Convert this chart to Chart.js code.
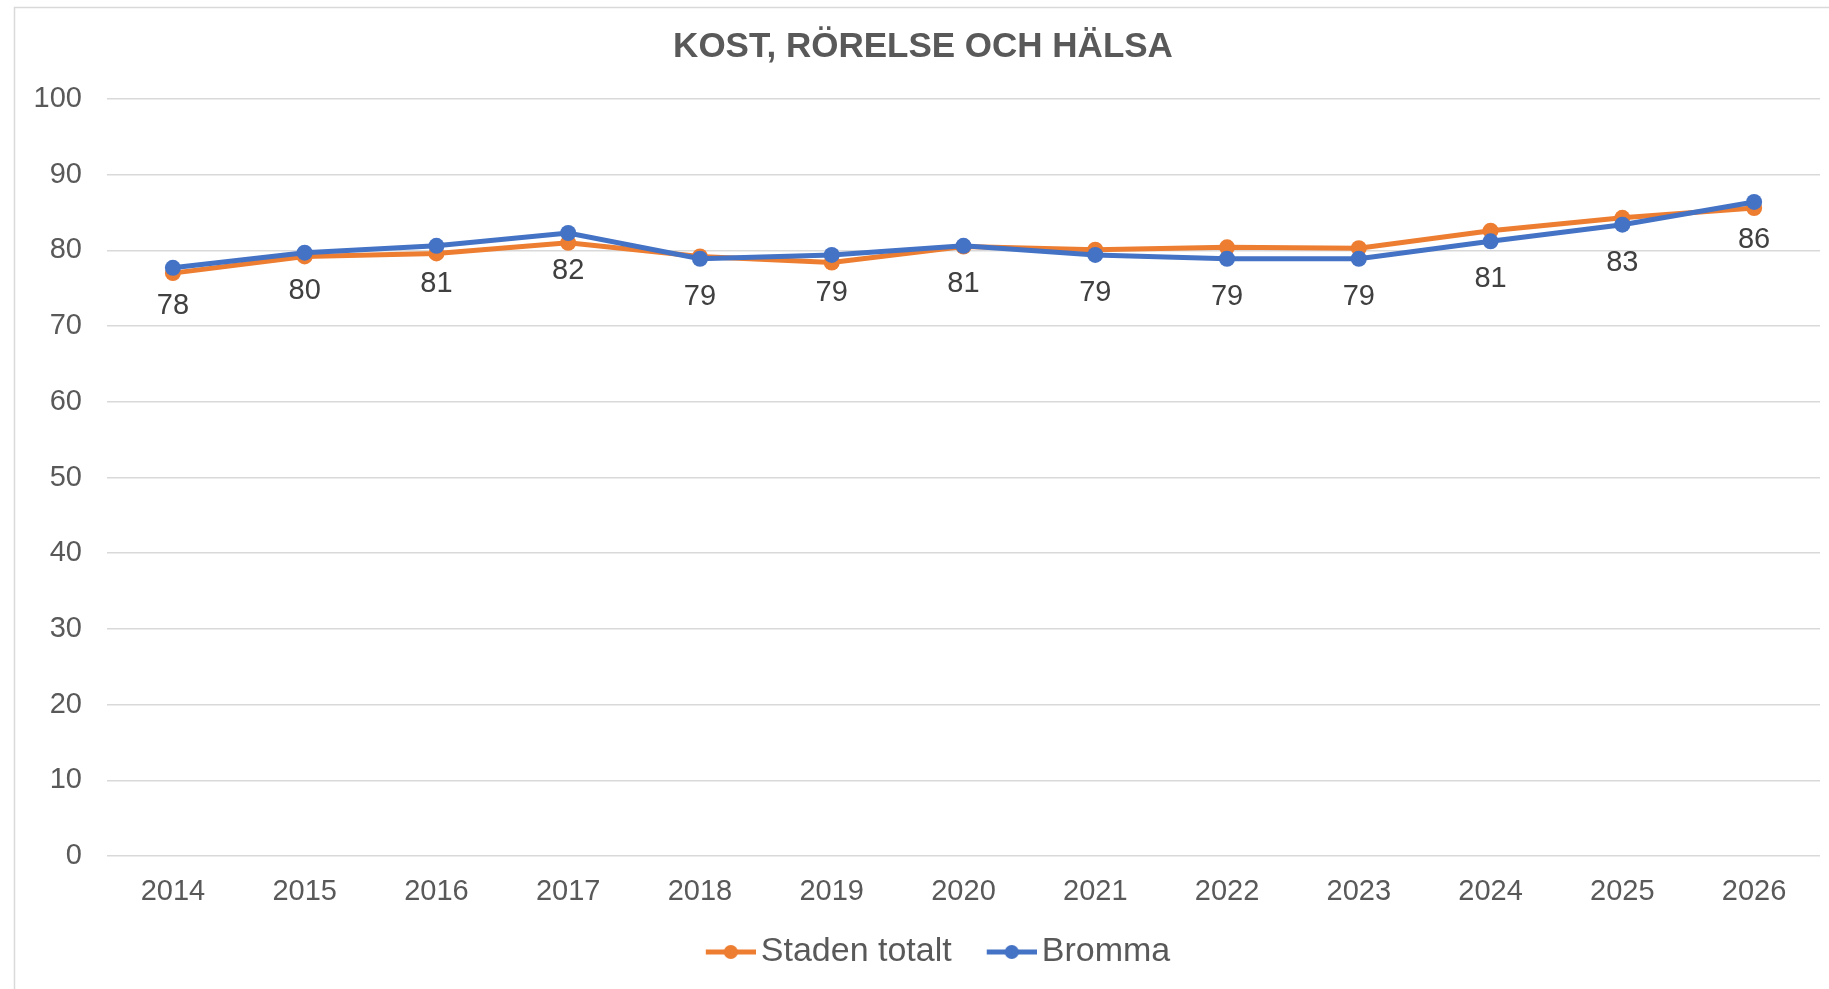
<!DOCTYPE html>
<html lang="sv">
<head>
<meta charset="utf-8">
<title>Kost, rörelse och hälsa</title>
<script src="https://cdn.jsdelivr.net/npm/chart.js@4.4.1/dist/chart.umd.min.js"></script>
<style>
    html, body { margin: 0; padding: 0; background: #ffffff; }
    #wrap { position: relative; width: 1829px; height: 989px; }
</style>
</head>
<body>
<div id="wrap"><canvas id="grafico" width="1829" height="989"></canvas></div>
<script>
// Data
const ar = ['2014', '2015', '2016', '2017', '2018', '2019', '2020', '2021', '2022', '2023', '2024', '2025', '2026'];
const stadenTotalt = [77.0, 79.2, 79.6, 81.0, 79.2, 78.4, 80.5, 80.1, 80.4, 80.3, 82.6, 84.3, 85.6];
const bromma = [77.7, 79.7, 80.6, 82.3, 78.9, 79.4, 80.6, 79.4, 78.9, 78.9, 81.2, 83.4, 86.4];
const yMin = 0;
const yMax = 100;
const yStep = 10;

const ORANGE = '#ED7D31';
const BLUE = '#4472C4';
const TEXT = '#595959';
const GRID = '#d9d9d9';

// Legendsymbol: linje med punkt i mitten
function legendSymbol(color) {
    const c = document.createElement('canvas');
    c.width = 92;
    c.height = 18;
    const g = c.getContext('2d');
    g.strokeStyle = color;
    g.lineWidth = 5;
    g.beginPath();
    g.moveTo(42, 9);
    g.lineTo(92, 9);
    g.stroke();
    g.fillStyle = color;
    g.beginPath();
    g.arc(67, 9, 7, 0, Math.PI * 2);
    g.fill();
    return c;
}

// Bakgrund och ram runt diagrammet
const ramPlugin = {
    id: 'ram',
    beforeDraw(chart) {
        const ctx = chart.ctx;
        ctx.save();
        ctx.fillStyle = '#ffffff';
        ctx.fillRect(0, 0, chart.width, chart.height);
        ctx.strokeStyle = GRID;
        ctx.lineWidth = 1.5;
        ctx.strokeRect(14.5, 7.5, chart.width + 20, chart.height + 20);
        ctx.restore();
    }
};

// Dataetiketter under Bromma-punkterna
const etikettPlugin = {
    id: 'etiketter',
    afterDatasetsDraw(chart) {
        const ctx = chart.ctx;
        const meta = chart.getDatasetMeta(1);
        ctx.save();
        ctx.font = '29px "Liberation Sans", Arial, sans-serif';
        ctx.fillStyle = '#404040';
        ctx.textAlign = 'center';
        ctx.textBaseline = 'middle';
        meta.data.forEach((pt, i) => {
            ctx.fillText(Math.round(bromma[i]), pt.x, pt.y + 38);
        });
        ctx.restore();
    }
};

const ctx = document.getElementById('grafico').getContext('2d');
new Chart(ctx, {
    type: 'line',
    data: {
        labels: ar,
        datasets: [
            {
                label: 'Staden totalt',
                data: stadenTotalt,
                borderColor: ORANGE,
                backgroundColor: ORANGE,
                borderWidth: 5,
                pointRadius: 8,
                pointHoverRadius: 9,
                pointBackgroundColor: ORANGE,
                pointBorderWidth: 0,
                tension: 0,
                order: 1
            },
            {
                label: 'Bromma',
                data: bromma,
                borderColor: BLUE,
                backgroundColor: BLUE,
                borderWidth: 5,
                pointRadius: 8,
                pointHoverRadius: 9,
                pointBackgroundColor: BLUE,
                pointBorderWidth: 0,
                tension: 0,
                order: 0
            }
        ]
    },
    options: {
        responsive: false,
        animation: false,
        devicePixelRatio: 1,
        layout: { padding: { left: 18, right: 1, top: 0, bottom: 10 } },
        plugins: {
            title: {
                display: true,
                text: 'KOST, RÖRELSE OCH HÄLSA',
                color: TEXT,
                font: { family: '"Liberation Sans", Arial, sans-serif', size: 35, weight: 'bold', lineHeight: 1.2 },
                padding: { top: 26, bottom: 31 }
            },
            legend: {
                position: 'bottom',
                labels: {
                    color: TEXT,
                    font: { family: '"Liberation Sans", Arial, sans-serif', size: 34 },
                    usePointStyle: true,
                    pointStyleWidth: 68,
                    padding: 5,
                    generateLabels(chart) {
                        return chart.data.datasets.map((ds, i) => ({
                            text: ds.label,
                            fillStyle: ds.borderColor,
                            strokeStyle: ds.borderColor,
                            fontColor: TEXT,
                            lineWidth: 0,
                            pointStyle: legendSymbol(ds.borderColor),
                            hidden: !chart.isDatasetVisible(i),
                            datasetIndex: i
                        }));
                    }
                }
            },
            tooltip: { enabled: true }
        },
        scales: {
            x: {
                offset: true,
                grid: { display: false, drawTicks: false },
                border: { display: false },
                ticks: {
                    color: TEXT,
                    font: { family: '"Liberation Sans", Arial, sans-serif', size: 29 },
                    padding: 19,
                    maxRotation: 0
                },
                afterFit(scale) { scale.height = 74; }
            },
            y: {
                min: yMin,
                max: yMax,
                grid: { color: GRID, lineWidth: 1.5, drawTicks: false },
                border: { display: false },
                ticks: {
                    stepSize: yStep,
                    color: TEXT,
                    font: { family: '"Liberation Sans", Arial, sans-serif', size: 29 },
                    padding: 25
                },
                afterFit(scale) { scale.width = 89; }
            }
        }
    },
    plugins: [ramPlugin, etikettPlugin]
});
</script>
</body>
</html>
